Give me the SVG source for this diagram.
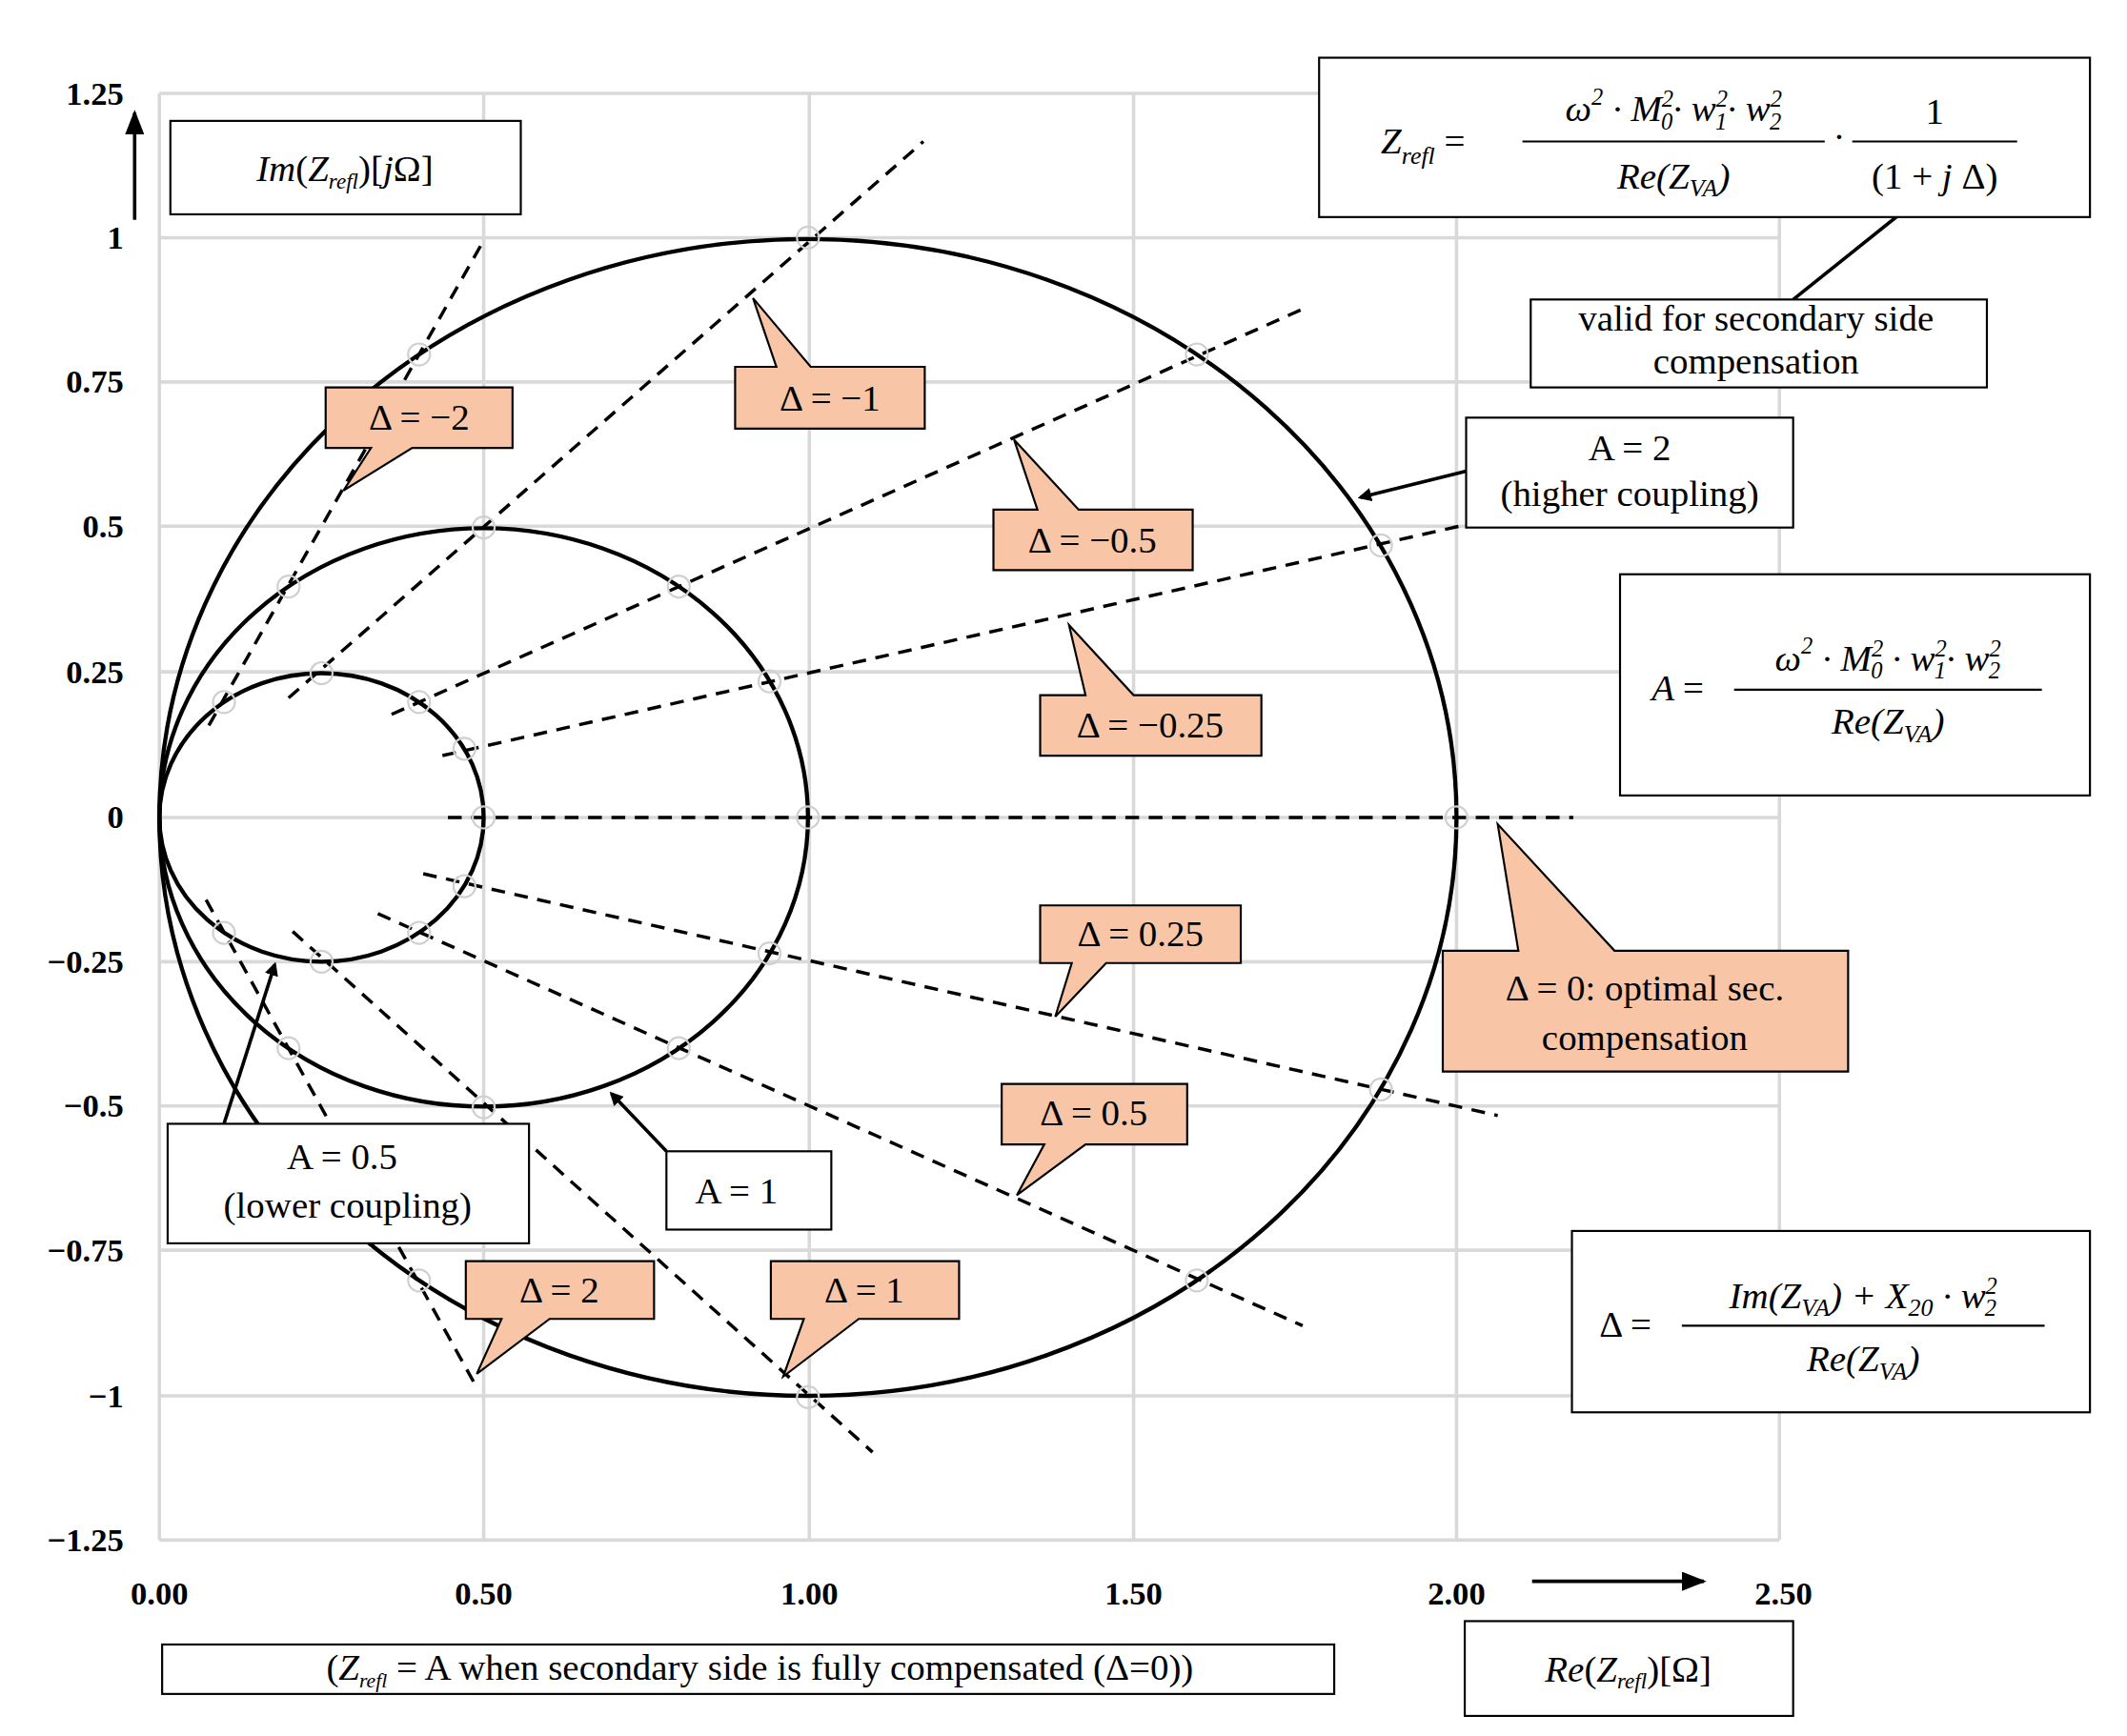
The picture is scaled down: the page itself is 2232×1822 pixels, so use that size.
<svg xmlns="http://www.w3.org/2000/svg" width="2232" height="1822" viewBox="0 0 2232 1822">
<defs>
<style>
.g{stroke:#d9d9d9;stroke-width:2.5;fill:none}
.c{stroke:#000;stroke-width:3;fill:none}
.d{stroke:#000;stroke-width:2.4;stroke-dasharray:10 7;fill:none}
.m{stroke:#d0d0d0;stroke-width:1.5;fill:none}
.call{fill:#f8c6a6;stroke:#000;stroke-width:1.5}
.box{fill:#fff;stroke:#000;stroke-width:1.5}
.t{font-family:"Liberation Serif",serif;font-size:27px;fill:#000}
.tk{font-family:"Liberation Serif",serif;font-size:24px;font-weight:bold;fill:#000}
.f{font-family:"Liberation Serif",serif;font-size:27px;font-style:italic;fill:#000}
.ar{stroke:#000;stroke-width:2.5;fill:none}
</style>
<marker id="ah" markerWidth="10" markerHeight="10" refX="8" refY="5" orient="auto" markerUnits="userSpaceOnUse" viewBox="0 0 10 10"><path d="M0,0 L10,5 L0,10 Z" fill="#000"/></marker>
<marker id="ahb" markerWidth="18" markerHeight="14" refX="16" refY="7" orient="auto" markerUnits="userSpaceOnUse" viewBox="0 0 18 14"><path d="M0,0 L18,7 L0,14 Z" fill="#000"/></marker>
</defs>
<g transform="scale(1.4419)">
<g id="grid">
<path class="g" d="M116,68V1121M352,68V1121M589,68V1121M825,68V1121M1060,68V1121M1295,68V1121M116,68H1295M116,173H1295M116,278H1295M116,383H1295M116,489H1295M116,595H1295M116,700H1295M116,805H1295M116,910H1295M116,1016H1295M116,1121H1295"/>
</g>
<g id="ticks">
<g class="tk" text-anchor="end">
<text x="90" y="76">1.25</text><text x="90" y="181">1</text><text x="90" y="286">0.75</text><text x="90" y="391">0.5</text><text x="90" y="497">0.25</text><text x="90" y="603">0</text><text x="90" y="708">−0.25</text><text x="90" y="813">−0.5</text><text x="90" y="918">−0.75</text><text x="90" y="1024">−1</text><text x="90" y="1129">−1.25</text>
</g>
<g class="tk" text-anchor="middle">
<text x="116" y="1168">0.00</text><text x="352" y="1168">0.50</text><text x="589" y="1168">1.00</text><text x="825" y="1168">1.50</text><text x="1060" y="1168">2.00</text><text x="1298" y="1168">2.50</text>
</g>
</g>
<g id="circles">
<ellipse class="c" cx="588" cy="595" rx="472" ry="421"/>
<ellipse class="c" cx="352" cy="595" rx="236" ry="210.5"/>
<ellipse class="c" cx="234" cy="595" rx="118" ry="105"/>
</g>
<g id="connectors">
<path class="d" d="M152,528L352,175"/>
<path class="d" d="M210,508L672,103"/>
<path class="d" d="M285,520L948,225"/>
<path class="d" d="M322,550L1062,383"/>
<path class="d" d="M326,595L1145,595"/>
<path class="d" d="M308,636L1090,812"/>
<path class="d" d="M275,665L948,965"/>
<path class="d" d="M213,678L635,1057"/>
<path class="d" d="M150,655L347,1010"/>
<g class="m">
<circle cx="305" cy="258" r="8"/><circle cx="588" cy="173" r="8"/><circle cx="871" cy="258" r="8"/><circle cx="1005" cy="397" r="8"/><circle cx="1060" cy="595" r="8"/>
<circle cx="305" cy="932" r="8"/><circle cx="588" cy="1017" r="8"/><circle cx="871" cy="932" r="8"/><circle cx="1005" cy="793" r="8"/>
<circle cx="210" cy="427" r="8"/><circle cx="352" cy="384" r="8"/><circle cx="494" cy="427" r="8"/><circle cx="560" cy="496" r="8"/><circle cx="588" cy="595" r="8"/>
<circle cx="210" cy="763" r="8"/><circle cx="352" cy="806" r="8"/><circle cx="494" cy="763" r="8"/><circle cx="560" cy="694" r="8"/>
<circle cx="163" cy="511" r="8"/><circle cx="234" cy="490" r="8"/><circle cx="305" cy="511" r="8"/><circle cx="338" cy="545" r="8"/><circle cx="352" cy="595" r="8"/>
<circle cx="163" cy="679" r="8"/><circle cx="234" cy="700" r="8"/><circle cx="305" cy="679" r="8"/><circle cx="338" cy="645" r="8"/>
</g>
<path class="ar" d="M98,160V82" marker-end="url(#ahb)" stroke-width="4"/>
<path class="ar" d="M1115,1151H1240" marker-end="url(#ahb)" stroke-width="4"/>
<path class="ar" d="M1067,343L990,362" marker-end="url(#ah)"/>
<path class="ar" d="M1305,218L1395,146" marker-end="url(#ah)"/>
<path class="ar" d="M485,838L445,796" marker-end="url(#ah)"/>
<path class="ar" d="M163,818L200,702" marker-end="url(#ah)"/>
</g>
<g id="callouts">
<g id="cm2"><path class="call" d="M237,282H373V326H300L250,357L270,326H237Z"/><text class="t" x="305" y="313" text-anchor="middle">Δ = −2</text></g>
<g id="cm1"><path class="call" d="M535,267H565L548,217L590,267H673V312H535Z"/><text class="t" x="604" y="299" text-anchor="middle">Δ = −1</text></g>
<g id="cm05"><path class="call" d="M723,371H755L738,320L785,371H868V415H723Z"/><text class="t" x="795" y="402" text-anchor="middle">Δ = −0.5</text></g>
<g id="cm025"><path class="call" d="M757,506H790L778,455L825,506H918V550H757Z"/><text class="t" x="837" y="537" text-anchor="middle">Δ = −0.25</text></g>
<g id="cp025"><path class="call" d="M757,659H903V701H805L768,740L780,701H757Z"/><text class="t" x="830" y="689" text-anchor="middle">Δ = 0.25</text></g>
<g id="cp05"><path class="call" d="M729,789H864V833H790L740,870L760,833H729Z"/><text class="t" x="796" y="819" text-anchor="middle">Δ = 0.5</text></g>
<g id="c0"><path class="call" d="M1050,692H1105L1090,600L1175,692H1345V780H1050Z"/><text class="t" x="1197" y="728" text-anchor="middle">Δ = 0: optimal  sec.</text><text class="t" x="1197" y="764" text-anchor="middle">compensation</text></g>
<g id="cp2"><path class="call" d="M339,918H476V960H400L347,1000L365,960H339Z"/><text class="t" x="407" y="948" text-anchor="middle">Δ = 2</text></g>
<g id="cp1"><path class="call" d="M561,918H698V960H625L570,1002L585,960H561Z"/><text class="t" x="629" y="948" text-anchor="middle">Δ = 1</text></g>
</g>
<g id="labels">
<g id="imlab"><rect class="box" x="124" y="88" width="255" height="68"/><text class="t" x="251" y="132" text-anchor="middle"><tspan font-style="italic">Im</tspan>(<tspan font-style="italic">Z</tspan><tspan font-size="16" font-style="italic" dy="5">refl</tspan><tspan dy="-5">)[</tspan><tspan font-style="italic">j</tspan>Ω]</text></g>
<g id="relab"><rect class="box" x="1066" y="1180" width="239" height="69"/><text class="t" x="1185" y="1224" text-anchor="middle"><tspan font-style="italic">Re</tspan>(<tspan font-style="italic">Z</tspan><tspan font-size="16" font-style="italic" dy="5">refl</tspan><tspan dy="-5">)[Ω]</tspan></text></g>
<g id="note"><rect class="box" x="118" y="1197" width="853" height="36"/><text class="t" x="553" y="1223" text-anchor="middle" font-size="25">(<tspan font-style="italic">Z</tspan><tspan font-size="15" font-style="italic" dy="5">refl</tspan><tspan dy="-5"> = A when secondary side is fully compensated  (Δ=0))</tspan></text></g>
<g id="valid"><rect class="box" x="1114" y="218" width="332" height="64"/><text class="t" x="1278" y="241" text-anchor="middle" font-size="24">valid for  secondary side</text><text class="t" x="1278" y="272" text-anchor="middle" font-size="24">compensation</text></g>
<g id="a2"><rect class="box" x="1067" y="304" width="238" height="80"/><text class="t" x="1186" y="335" text-anchor="middle" font-size="25">A = 2</text><text class="t" x="1186" y="368" text-anchor="middle" font-size="25">(higher coupling)</text></g>
<g id="a05"><rect class="box" x="122" y="818" width="263" height="87"/><text class="t" x="249" y="851" text-anchor="middle" font-size="29">A = 0.5</text><text class="t" x="253" y="886" text-anchor="middle" font-size="29">(lower coupling)</text></g>
<g id="a1"><rect class="box" x="485" y="838" width="120" height="57"/><text class="t" x="536" y="876" text-anchor="middle" font-size="29">A = 1</text></g>
<g id="fz"><rect class="box" x="960" y="42" width="561" height="116"/>
<text class="f" x="1005" y="112">Z<tspan font-size="18" dy="7">refl</tspan><tspan dy="-7" font-style="normal"> =</tspan></text>
<path d="M1108,103H1328M1348,103H1468" stroke="#000" stroke-width="1.5"/>
<text class="f" x="1218" y="88" text-anchor="middle">ω<tspan font-size="17" dy="-12">2</tspan><tspan dy="12"> · M</tspan><tspan font-size="17" dy="-10">2</tspan><tspan font-size="17" dx="-9" dy="16">0</tspan><tspan dy="-6">· w</tspan><tspan font-size="17" dy="-10">2</tspan><tspan font-size="17" dx="-9" dy="16">1</tspan><tspan dy="-6">· w</tspan><tspan font-size="17" dy="-10">2</tspan><tspan font-size="17" dx="-9" dy="16">2</tspan></text>
<text class="f" x="1218" y="137" text-anchor="middle">Re(Z<tspan font-size="18" dy="6">VA</tspan><tspan dy="-6">)</tspan></text>
<text class="f" x="1338" y="108" text-anchor="middle" font-style="normal">·</text>
<text class="t" x="1408" y="90" text-anchor="middle">1</text>
<text class="t" x="1408" y="137" text-anchor="middle">(1 + <tspan font-style="italic">j</tspan> Δ)</text>
</g>
<g id="fa"><rect class="box" x="1179" y="418" width="342" height="161"/>
<text class="f" x="1202" y="510">A <tspan font-style="normal">=</tspan></text>
<path d="M1262,502H1486" stroke="#000" stroke-width="1.5"/>
<text class="f" x="1374" y="488" text-anchor="middle">ω<tspan font-size="17" dy="-12">2</tspan><tspan dy="12"> · M</tspan><tspan font-size="17" dy="-10">2</tspan><tspan font-size="17" dx="-9" dy="16">0</tspan><tspan dy="-6"> · w</tspan><tspan font-size="17" dy="-10">2</tspan><tspan font-size="17" dx="-9" dy="16">1</tspan><tspan dy="-6">· w</tspan><tspan font-size="17" dy="-10">2</tspan><tspan font-size="17" dx="-9" dy="16">2</tspan></text>
<text class="f" x="1374" y="534" text-anchor="middle">Re(Z<tspan font-size="18" dy="6">VA</tspan><tspan dy="-6">)</tspan></text>
</g>
<g id="fd"><rect class="box" x="1144" y="896" width="377" height="132"/>
<text class="t" x="1164" y="973">Δ =</text>
<path d="M1224,965H1488" stroke="#000" stroke-width="1.5"/>
<text class="f" x="1356" y="952" text-anchor="middle">Im(Z<tspan font-size="18" dy="6">VA</tspan><tspan dy="-6">) + X</tspan><tspan font-size="18" dy="6">20</tspan><tspan dy="-6"> · w</tspan><tspan font-size="17" dy="-10">2</tspan><tspan font-size="17" dx="-9" dy="16">2</tspan></text>
<text class="f" x="1356" y="998" text-anchor="middle">Re(Z<tspan font-size="18" dy="6">VA</tspan><tspan dy="-6">)</tspan></text>
</g>
</g>
</g>
</svg>
